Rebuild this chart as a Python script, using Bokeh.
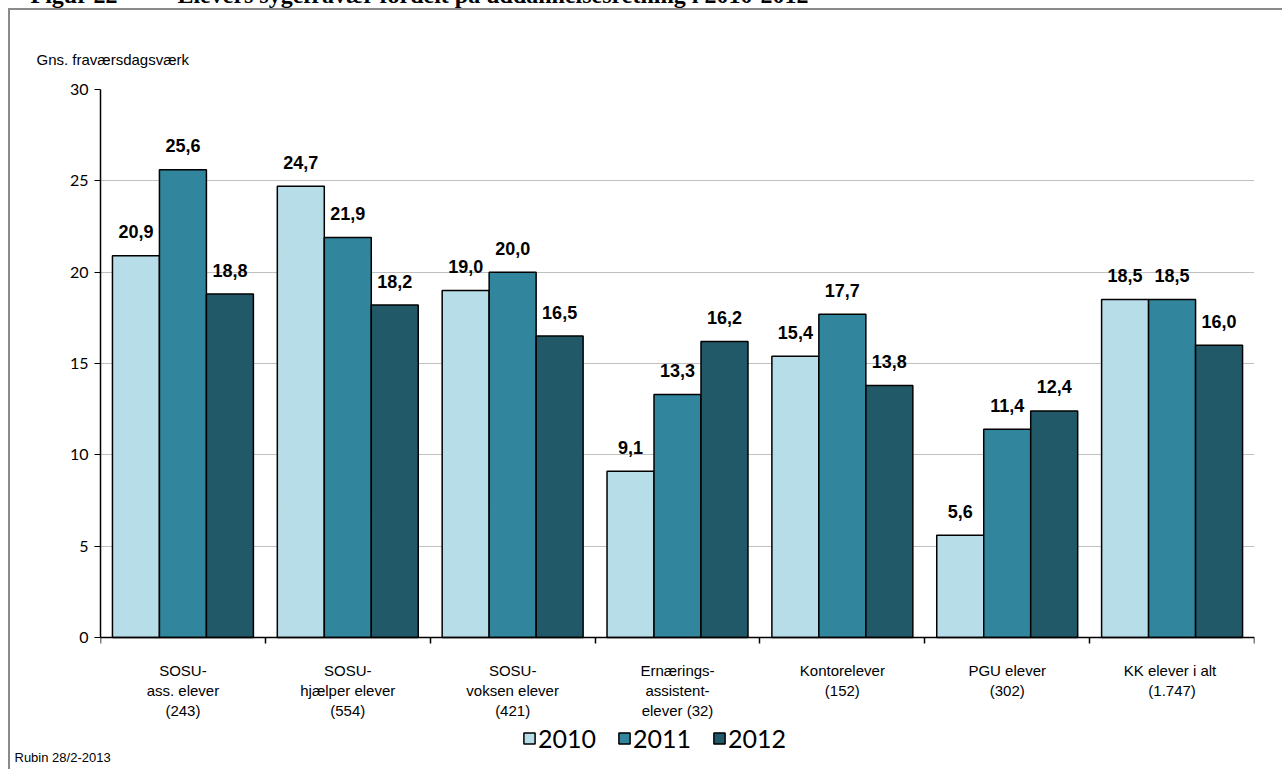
import numpy as np
from bokeh.plotting import figure
from bokeh.models import (ColumnDataSource, FixedTicker, Legend, LegendItem, Range1d, Title)
from bokeh.core.properties import value
from bokeh.embed import file_html
from bokeh.resources import INLINE

categories = ["SOSU-\nass. elever\n(243)", "SOSU-\nhjælper elever\n(554)",
              "SOSU-\nvoksen elever\n(421)", "Ernærings-\nassistent-\nelever (32)",
              "Kontorelever\n(152)", "PGU elever\n(302)", "KK elever  i alt\n(1.747)"]
years = ["2010", "2011", "2012"]
v2010 = [20.9, 24.7, 19.0, 9.1, 15.4, 5.6, 18.5]
v2011 = [25.6, 21.9, 20.0, 13.3, 17.7, 11.4, 18.5]
v2012 = [18.8, 18.2, 16.5, 16.2, 13.8, 12.4, 16.0]
colors = ["#b7dde8", "#31859c", "#215968"]
y_ticks = [0, 5, 10, 15, 20, 25, 30]
fig_title = "Figur 22" + "\u00a0" * 10 + "Elevers sygefravær fordelt på uddannelsesretning i 2010-2012"
y_label = "Gns. fraværsdagsværk"
source_note = "Rubin 28/2-2013"

M = 44                      # part of the canvas pushed above the page top
W, H = 1282, 769 + M
Y30, Y0, YB = 89, 637, 754  # page rows of the value 30, the value 0 and the frame bottom
FRAME_L, FRAME_R, FRAME_T, FRAME_B = 100, 1254, Y30 + M, YB + M
y_min = -30.0 * (YB - Y0) / (Y0 - Y30)   # room under the axis for labels and legend
gray = "#8a8a8a"
bg = (f"linear-gradient({gray},{gray}) 8px {8 + M}px / 2px 100% no-repeat, "
      f"linear-gradient({gray},{gray}) 8px {8 + M}px / 100% 2px no-repeat, white")

p = figure(width=W, height=H, output_backend="svg", toolbar_location=None,
           frame_width=FRAME_R - FRAME_L, frame_height=FRAME_B - FRAME_T,
           x_range=Range1d(0, 7), y_range=Range1d(y_min, 30),
           min_border_left=FRAME_L, min_border_right=W - FRAME_R,
           min_border_top=FRAME_T, min_border_bottom=H - FRAME_B,
           styles={"margin-top": f"-{M}px", "background": bg})
p.outline_line_color = None
p.background_fill_color = "white"
p.border_fill_alpha = 0

centers = np.arange(len(categories)) + 0.5
bw = 0.285
offsets = [-bw, 0.0, bw]
renderers = []
for vals, col, off, yr in zip([v2010, v2011, v2012], colors, offsets, years):
    src = ColumnDataSource(dict(x=centers + off, top=vals,
                                lab=[f"{v:.1f}".replace(".", ",") for v in vals]))
    r = p.vbar(x="x", top="top", width=bw, bottom=0, source=src, fill_color=col,
               line_color="black", line_width=1.5)
    renderers.append((yr, r))
    p.text(x="x", y="top", text="lab", source=src, text_align="center",
           text_baseline="alphabetic", y_offset=-24,
           text_font=value("Liberation Sans"), text_font_style="bold",
           text_font_size="18px", text_color="black")

# figure caption at the very top, mostly cut off by the page edge
p.title.text = fig_title
p.title.align = "left"
p.title.offset = 30 - FRAME_L
p.title.standoff = 40
p.title.text_font = "Liberation Serif"
p.title.text_font_style = "bold"
p.title.text_font_size = "24px"
p.title.text_color = "black"

# y-axis caption (left-aligned, just above the plot area)
p.add_layout(Title(text=y_label, align="left", offset=36 - FRAME_L, standoff=43,
                   text_font="Liberation Sans", text_font_style="normal",
                   text_font_size="15px", text_color="black"), "above")

# axes
p.xgrid.grid_line_color = None
p.ygrid.grid_line_color = "#c0c0c0"
p.ygrid.grid_line_width = 1
p.yaxis.ticker = FixedTicker(ticks=y_ticks)
p.yaxis.bounds = (0, 30)
p.yaxis.axis_line_color = "black"
p.yaxis.axis_line_width = 1.5
p.yaxis.major_tick_out = 6
p.yaxis.major_tick_in = 0
p.yaxis.minor_tick_line_color = None
p.yaxis.major_label_standoff = 6
p.yaxis.major_label_text_font = "Lato"
p.yaxis.major_label_text_font_size = "16px"
p.yaxis.major_label_text_color = "black"

p.xaxis.fixed_location = 0
p.xaxis.ticker = FixedTicker(ticks=list(centers), minor_ticks=list(range(len(categories) + 1)))
p.xaxis.major_label_overrides = {float(c): lab for c, lab in zip(centers, categories)}
p.xaxis.axis_line_color = "black"
p.xaxis.axis_line_width = 1.5
p.xaxis.major_tick_out = 0
p.xaxis.major_tick_in = 0
p.xaxis.minor_tick_out = 6
p.xaxis.minor_tick_in = 0
p.xaxis.minor_tick_line_color = "black"
p.xaxis.minor_tick_line_width = 1.5
p.xaxis.major_label_standoff = 18
p.xaxis.major_label_text_font = "Liberation Sans"
p.xaxis.major_label_text_font_size = "15px"
p.xaxis.major_label_text_color = "black"
p.xaxis.major_label_text_line_height = 1.18

legend = Legend(items=[LegendItem(label=yr, renderers=[r]) for yr, r in renderers],
                location=(422, 1), orientation="horizontal",
                glyph_width=14, glyph_height=14, label_standoff=2, spacing=21,
                padding=0, margin=0, border_line_color=None, background_fill_alpha=0,
                label_text_font="Lato", label_text_font_size="25px",
                label_text_color="black")
p.add_layout(legend, "center")

p.add_layout(Title(text=source_note, align="left", offset=14 - FRAME_L, standoff=-14,
                   text_font="Liberation Sans", text_font_style="normal",
                   text_font_size="13px", text_color="black"), "below")

open("out.html", "w").write(file_html(p, INLINE))
